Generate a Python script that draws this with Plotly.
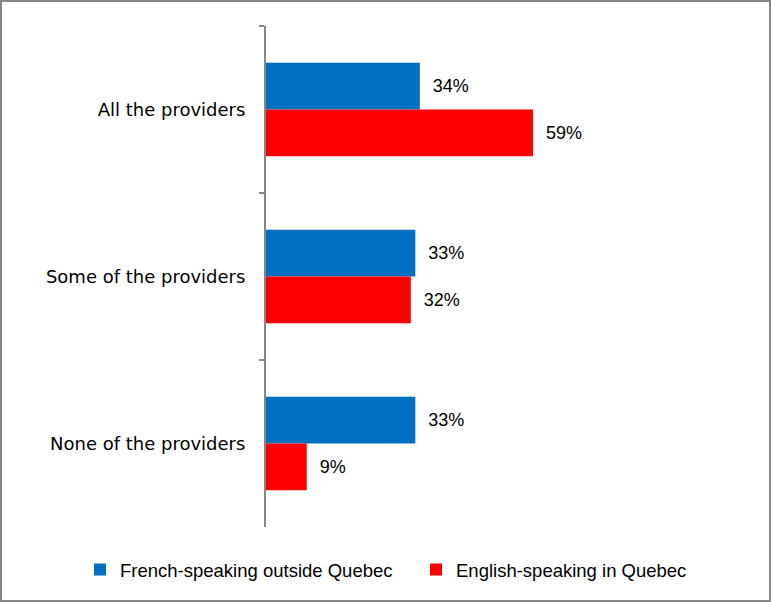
import plotly.graph_objects as go

categories = ["All the providers", "Some of the providers", "None of the providers"]
series_names = ["French-speaking outside Quebec", "English-speaking in Quebec"]
french_vals = [34, 33, 33]
english_vals = [59, 32, 9]
colors = ["#0070C0", "#FF0000"]

W, H = 771, 602
L, R, T, B = 266, 53, 26, 75
pw, ph = W - L - R, H - T - B
label_font = "Liberation Sans, Arial, sans-serif"

fig = go.Figure()
for name, vals, c in zip(series_names, [french_vals, english_vals], colors):
    fig.add_trace(go.Bar(
        y=categories, x=vals, name=name, orientation="h",
        marker=dict(color=c, line=dict(width=0)),
        text=["\u00a0\u00a0" + f"{v}%" for v in vals],
        textposition="outside", cliponaxis=False,
        textfont=dict(family=label_font, size=18, color="#000000"),
    ))

fig.update_layout(
    width=W, height=H,
    margin=dict(l=L, r=R, t=T, b=B, autoexpand=False),
    paper_bgcolor="white", plot_bgcolor="white",
    barmode="group", bargap=0.44, bargroupgap=0,
    showlegend=True,
    legend=dict(orientation="h", x=(80 - L) / pw, xanchor="left",
                y=(T + ph - 570) / ph, yanchor="middle",
                entrywidth=291, entrywidthmode="pixels",
                font=dict(family=label_font, size=18.5, color="#000000"),
                traceorder="normal"),
    xaxis=dict(range=[0, pw / 4.525], showticklabels=False, showline=False, ticks="",
               showgrid=False, zeroline=False),
    yaxis=dict(autorange="reversed", type="category", categoryorder="array", categoryarray=categories,
               showline=True, linecolor="#868686", linewidth=2,
               ticks="outside", tickson="boundaries", ticklen=5, tickwidth=2, tickcolor="#868686",
               showgrid=False, automargin=False, ticklabelstandoff=15,
               tickfont=dict(family="DejaVu Sans", size=18, color="#000000")),
    shapes=[dict(type="rect", xref="paper", yref="paper",
                 x0=(1 - L) / pw, x1=(770 - L) / pw,
                 y0=(H - 601 - B) / ph, y1=(H - 1 - B) / ph,
                 line=dict(color="#868686", width=2), fillcolor="rgba(0,0,0,0)", layer="below")],
)

fig.write_html("out.html")
